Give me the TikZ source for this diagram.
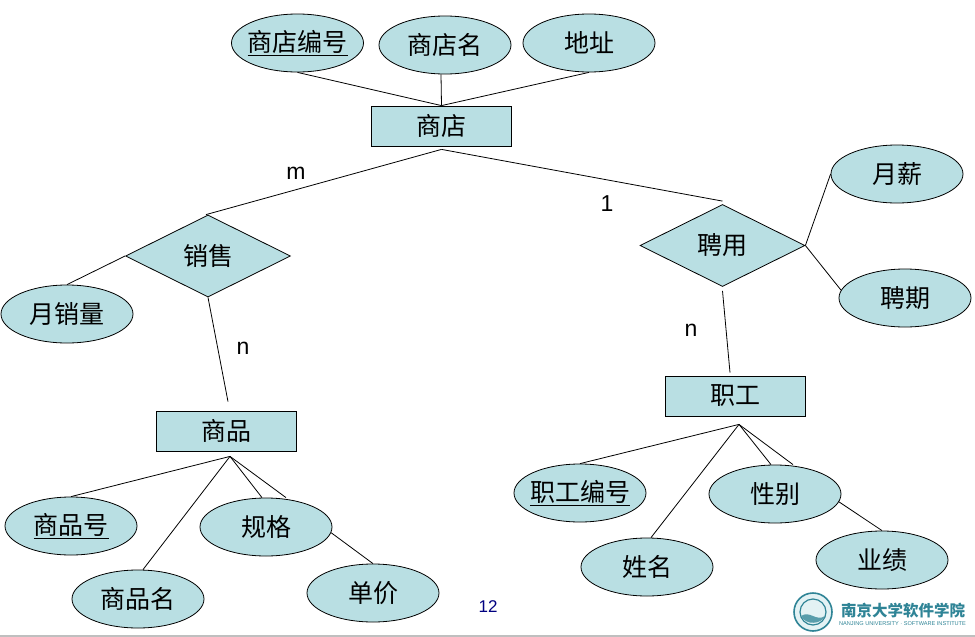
\documentclass[tikz,border=0pt]{standalone}
\usepackage{fontspec}
\setmainfont{Liberation Sans}
\newfontfamily\cjk{Noto Sans CJK SC}
\usepackage{xcolor}
\usetikzlibrary{positioning, shapes.geometric}
\definecolor{erfill}{HTML}{B9DFE3}
\definecolor{logoteal}{HTML}{2F8496}
\newcommand{\keyattr}[1]{\makebox[0pt]{\underline{#1}}}
\tikzset{
  attr/.style={draw, ellipse, fill=erfill, inner sep=0pt, minimum width=132pt, minimum height=58pt, font=\cjk\fontsize{25}{28}\selectfont},
  entity/.style={draw, rectangle, fill=erfill, inner sep=0pt, minimum width=140pt, minimum height=40pt, font=\cjk\fontsize{25}{28}\selectfont},
  relation/.style={draw, diamond, aspect=2, fill=erfill, inner sep=0pt, minimum width=165pt, minimum height=82pt, font=\cjk\fontsize{25}{28}\selectfont},
  card/.style={inner sep=0pt, font=\fontsize{23}{25}\selectfont},
}

\begin{document}
\begin{tikzpicture}[x=1pt, y=-1pt, line width=0.8pt]
\useasboundingbox (0,0) rectangle (975,637);
\node (Shop) [entity] at (441.5,126) {商店};
\node (ShopId) [attr] at (297.5,43) {\keyattr{商店编号}};
\node (ShopName) [attr] at (445,45) {商店名};
\node (ShopAddr) [attr] at (589,43) {地址};
\node (Sale) [relation] at (208,256) {销售};
\node (MonthSale) [attr] at (67,314) {月销量};
\node (Goods) [entity] at (226,431) {商品};
\node (GoodsId) [attr] at (71,526) {\keyattr{商品号}};
\node (GoodsSpec) [attr] at (266,527) {规格};
\node (GoodsName) [attr] at (138,599) {商品名};
\node (GoodsPrice) [attr] at (373,593) {单价};
\node (Hire) [relation] at (722.5,245.5) {聘用};
\node (Salary) [attr] at (897,174) {月薪};
\node (Term) [attr] at (905,298) {聘期};
\node (Staff) [entity] at (735,396) {职工};
\node (StaffId) [attr] at (580,493) {\keyattr{职工编号}};
\node (StaffSex) [attr] at (775,494) {性别};
\node (StaffName) [attr] at (647,567) {姓名};
\node (StaffWork) [attr] at (882,560) {业绩};
\node (LabM) [card] at (296,173) {m};
\node (LabOne) [card] at (607,204) {1};
\node (LabN) [card] at (243,348) {n};
\node (LabNb) [card] at (691,330) {n};
\node (PageNo) [inner sep=0pt, text=blue!50!black, font=\fontsize{17}{19}\selectfont] at (488,607) {12};
\draw (ShopId.south) -- (Shop.north);
\draw ([xshift=-4pt]ShopName.south) -- (Shop.north);
\draw (ShopAddr.south) -- (Shop.north);
\draw ([yshift=-3pt]Shop.south) -- ([xshift=-2pt]Sale.north);
\draw ([yshift=-3pt]Shop.south) -- ([yshift=3pt]Hire.north);
\draw (Sale.west) -- (MonthSale.north);
\draw (Sale.south) -- ([xshift=2pt,yshift=9pt]Goods.north);
\draw ([xshift=4pt,yshift=-5pt]Goods.south) -- (GoodsId.north);
\draw ([xshift=4pt,yshift=-5pt]Goods.south) -- ([xshift=5pt]GoodsName.north);
\draw ([xshift=4pt,yshift=-5pt]Goods.south) -- ([xshift=-4pt]GoodsSpec.north);
\draw ([xshift=4pt,yshift=-5pt]Goods.south) -- ([xshift=20pt]GoodsSpec.north);
\draw (GoodsSpec.-5) -- (GoodsPrice.north);
\draw (Hire.east) -- (Salary.west);
\draw (Hire.east) -- (Term.173);
\draw ([yshift=-4pt]Hire.south) -- ([xshift=-5pt,yshift=3pt]Staff.north);
\draw ([xshift=4pt,yshift=-8pt]Staff.south) -- (StaffId.north);
\draw ([xshift=4pt,yshift=-8pt]Staff.south) -- ([xshift=4pt]StaffName.north);
\draw ([xshift=4pt,yshift=-8pt]Staff.south) -- ([xshift=-4pt]StaffSex.north);
\draw ([xshift=4pt,yshift=-8pt]Staff.south) -- ([xshift=18pt]StaffSex.north);
\draw (StaffSex.-7) -- (StaffWork.north);
% logo
\node (Seal) [draw=logoteal, line width=1.6pt, circle, minimum size=38pt, inner sep=0pt, fill=erfill!40] at (813,612) {};
\draw[logoteal, line width=1.2pt] (Seal) circle (13pt);
\fill[logoteal!80] (801,616) .. controls (810,610) and (816,622) .. (825,616) .. controls (822,624) and (806,626) .. (801,616);
\node (LogoText) [inner sep=0pt, text=logoteal, font=\cjk\bfseries\fontsize{15.5}{17}\selectfont] at (903,611) {南京大学软件学院};
\node (LogoSub) [inner sep=0pt, text=logoteal, font=\fontsize{5.6}{7}\selectfont] at (902.5,624) {NANJING UNIVERSITY · SOFTWARE INSTITUTE};
\draw[black!25, line width=2pt] (0,635.5) -- (975,635.5);
\end{tikzpicture}
\end{document}
